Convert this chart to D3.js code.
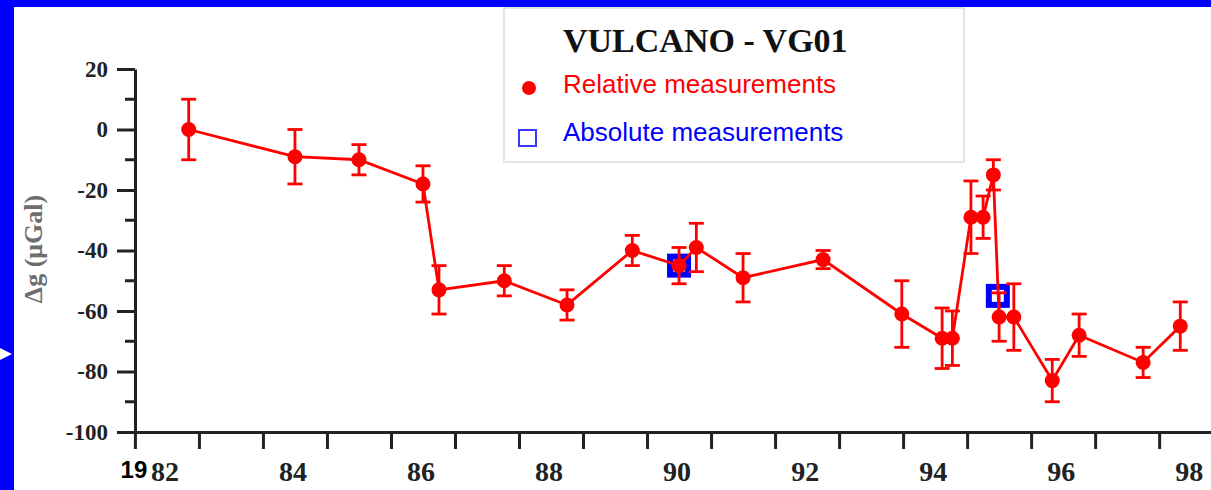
<!DOCTYPE html>
<html>
<head>
<meta charset="utf-8">
<script src="https://cdn.jsdelivr.net/npm/d3@7"></script>
<style>
  html, body { margin: 0; padding: 0; background: #fff; }
  svg { display: block; }
</style>
</head>
<body>
<svg id="chart" width="1211" height="490"></svg>
<script>
// relative measurements: decimal year, delta g (microGal), error bar half-size
const relYears = [1982.84, 1984.5, 1985.5, 1986.5, 1986.75, 1987.77, 1988.75, 1989.77, 1990.5, 1990.77,
                  1991.5, 1992.75, 1993.98, 1994.61, 1994.77, 1995.06, 1995.25, 1995.41, 1995.5, 1995.73,
                  1996.33, 1996.75, 1997.75, 1998.33];
const relValues = [0, -9, -10, -18, -53, -50, -58, -40, -45, -39,
                   -49, -43, -61, -69, -69, -29, -29, -15, -62, -62,
                   -83, -68, -77, -65];
const relErrors = [10, 9, 5, 6, 8, 5, 5, 5, 6, 8,
                   8, 3, 11, 10, 9, 12, 7, 5, 8, 11,
                   7, 7, 5, 8];

// absolute measurements
const absYears = [1990.5, 1995.48];
const absValues = [-45, -55];

// axis ticks and labels
const yMajorTicks = [-100, -80, -60, -40, -20, 0, 20];
const yMinorTicks = [-90, -70, -50, -30, -10, 10];
const xTickYears = d3.range(1982, 1999);
const xLabelYears = [1982, 1984, 1986, 1988, 1990, 1992, 1994, 1996, 1998];
const xLabels = ['82', '84', '86', '88', '90', '92', '94', '96', '98'];

const title = 'VULCANO - VG01';
const legendLabels = ['Relative measurements', 'Absolute measurements'];

const serif = '"Liberation Serif", "Times New Roman", serif';
const sans = '"Liberation Sans", Arial, sans-serif';

document.addEventListener('DOMContentLoaded', function() {
    const svg = d3.select('#chart');
    const W = 1211, H = 490;

    // blue slide frame
    svg.append('rect').attr('x', 0).attr('y', 0).attr('width', W).attr('height', H).attr('fill', '#0000ff');
    svg.append('rect').attr('x', 14).attr('y', 7).attr('width', W - 14).attr('height', H - 7).attr('fill', '#ffffff');
    svg.append('path').attr('d', 'M0,348 L12,354 L0,360 Z').attr('fill', '#ffffff');

    const axisX = 135;
    const x = d3.scaleLinear().domain([1981.72, 1998.81]).range([117, 1211]);
    const y = d3.scaleLinear().domain([-100, 20]).range([432, 69]);

    // x axis
    const xAxis = svg.append('g')
        .attr('transform', `translate(0,${y(-100)})`)
        .call(d3.axisBottom(x).tickValues(xTickYears).tickFormat('').tickSize(17).tickSizeOuter(0));
    xAxis.selectAll('path, line').attr('stroke', '#222').attr('stroke-width', 3);

    // y axis
    const yAxis = svg.append('g')
        .attr('transform', `translate(${axisX},0)`)
        .call(d3.axisLeft(y).tickValues(yMajorTicks).tickFormat(d => String(d))
            .tickSize(18).tickPadding(9).tickSizeOuter(0));
    yAxis.selectAll('path, line').attr('stroke', '#222').attr('stroke-width', 3);
    yAxis.selectAll('text')
        .attr('font-family', serif).attr('font-weight', 'bold').attr('font-size', '23px').attr('fill', '#222');

    svg.append('g')
        .attr('transform', `translate(${axisX},0)`)
        .selectAll('line')
        .data(yMinorTicks)
        .enter()
        .append('line')
        .attr('x1', -10).attr('x2', 0)
        .attr('y1', d => y(d)).attr('y2', d => y(d))
        .attr('stroke', '#222').attr('stroke-width', 3);

    // x tick labels sit between the yearly ticks
    svg.selectAll('.xlabel')
        .data(xLabelYears)
        .enter()
        .append('text')
        .attr('class', 'xlabel')
        .attr('x', d => x(d + 0.47))
        .attr('y', 481)
        .attr('text-anchor', 'middle')
        .attr('font-family', serif).attr('font-weight', 'bold').attr('font-size', '28px').attr('fill', '#222')
        .text((d, i) => xLabels[i]);

    svg.append('text')
        .attr('x', x(1982) - 1).attr('y', 478)
        .attr('text-anchor', 'middle')
        .attr('font-family', sans).attr('font-weight', 'bold').attr('font-size', '24px').attr('fill', '#000')
        .text('19');

    // y axis title
    svg.append('text')
        .attr('transform', 'translate(42,249) rotate(-90)')
        .attr('text-anchor', 'middle')
        .attr('font-family', serif).attr('font-weight', 'bold').attr('font-size', '26px').attr('fill', '#6e6e6e')
        .text('Δg (μGal)');

    // absolute measurements (under the red series)
    svg.selectAll('.abs')
        .data(absYears)
        .enter()
        .append('rect')
        .attr('class', 'abs')
        .attr('x', d => x(d) - 9)
        .attr('y', (d, i) => y(absValues[i]) - 9)
        .attr('width', 18).attr('height', 18)
        .attr('fill', '#ffffff')
        .attr('stroke', '#0000ff').attr('stroke-width', 6);

    const rel = relYears.map((d, i) => ({ year: d, value: relValues[i], err: relErrors[i] }));

    // connecting line
    const line = d3.line().x(d => x(d.year)).y(d => y(d.value));
    svg.append('path')
        .datum(rel)
        .attr('d', line)
        .attr('fill', 'none')
        .attr('stroke', '#ff0000').attr('stroke-width', 2.8);

    // error bars
    const bars = svg.append('g').attr('stroke', '#ff0000').attr('stroke-width', 2.8);
    rel.forEach(d => {
        const cx = x(d.year);
        bars.append('line').attr('x1', cx).attr('x2', cx).attr('y1', y(d.value + d.err)).attr('y2', y(d.value - d.err));
        bars.append('line').attr('x1', cx - 7.5).attr('x2', cx + 7.5).attr('y1', y(d.value + d.err)).attr('y2', y(d.value + d.err));
        bars.append('line').attr('x1', cx - 7.5).attr('x2', cx + 7.5).attr('y1', y(d.value - d.err)).attr('y2', y(d.value - d.err));
    });

    // dots
    svg.selectAll('.dot')
        .data(rel)
        .enter()
        .append('circle')
        .attr('class', 'dot')
        .attr('cx', d => x(d.year))
        .attr('cy', d => y(d.value))
        .attr('r', 7.5)
        .attr('fill', '#ff0000');

    // legend box
    const lg = svg.append('g');
    lg.append('rect')
        .attr('x', 504).attr('y', 8).attr('width', 460).attr('height', 154)
        .attr('fill', '#ffffff').attr('stroke', '#e4e4e4').attr('stroke-width', 2);
    lg.append('text')
        .attr('x', 563).attr('y', 52)
        .attr('font-family', serif).attr('font-weight', 'bold').attr('font-size', '34px').attr('fill', '#111')
        .text(title);
    lg.append('circle').attr('cx', 529).attr('cy', 88).attr('r', 7).attr('fill', '#ff0000');
    lg.append('text')
        .attr('x', 563).attr('y', 93)
        .attr('font-family', sans).attr('font-size', '26px').attr('fill', '#ff0000')
        .text(legendLabels[0]);
    lg.append('rect')
        .attr('x', 519).attr('y', 130).attr('width', 17).attr('height', 16)
        .attr('fill', 'none').attr('stroke', '#3a3aff').attr('stroke-width', 2);
    lg.append('text')
        .attr('x', 563).attr('y', 141)
        .attr('font-family', sans).attr('font-size', '26px').attr('fill', '#0000ff')
        .text(legendLabels[1]);
});
</script>
</body>
</html>
